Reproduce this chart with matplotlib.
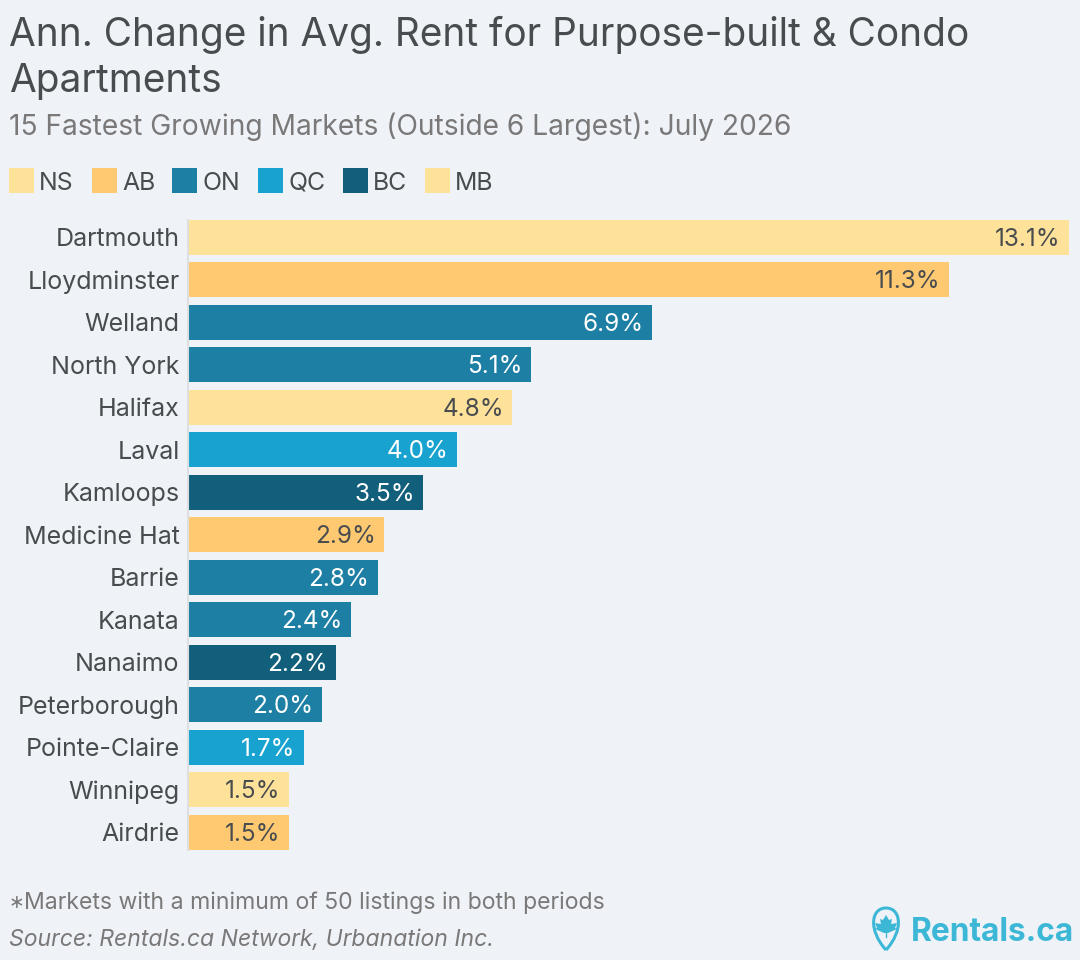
"""Annual rent change by market, horizontal bars coloured by province."""
import matplotlib
matplotlib.use("Agg")
import matplotlib.pyplot as plt
from matplotlib.patches import PathPatch, Rectangle
from matplotlib.path import Path

markets = ['Dartmouth', 'Lloydminster', 'Welland', 'North York', 'Halifax', 'Laval', 'Kamloops',
           'Medicine Hat', 'Barrie', 'Kanata', 'Nanaimo', 'Peterborough', 'Pointe-Claire',
           'Winnipeg', 'Airdrie']
changes = [13.1, 11.31, 6.9, 5.1, 4.82, 4.0, 3.5, 2.92, 2.82, 2.42, 2.2, 1.99, 1.72, 1.5, 1.5]
provinces = ['NS', 'AB', 'ON', 'ON', 'NS', 'QC', 'BC', 'AB', 'ON', 'ON', 'BC', 'ON', 'QC', 'MB', 'AB']

legend_order = ['NS', 'AB', 'ON', 'QC', 'BC', 'MB']
legend_box_x = [9, 92, 172, 258, 343, 425]
COLORS = {'NS': '#FFE29A', 'AB': '#FFC972', 'ON': '#1C7FA3', 'QC': '#18A2D0', 'BC': '#125F7B', 'MB': '#FFE29A'}
DARK_TEXT = {'NS', 'AB', 'MB'}

BG, INK, GREY = '#EFF3F8', '#494C4E', '#7A7878'
W, H = 1080, 960
plt.rcParams['font.family'] = ['Inter', 'DejaVu Sans']

fig = plt.figure(figsize=(W / 100, H / 100), dpi=100, facecolor=BG)

# whole-figure overlay in pixel coords for the text, legend and logo
ov = fig.add_axes([0, 0, 1, 1], zorder=0)
ov.set_xlim(0, W); ov.set_ylim(H, 0); ov.axis('off')

ov.text(9, 35, 'Ann. Change in Avg. Rent for Purpose-built & Condo', fontsize=27.95, color=INK, va='center')
ov.text(9, 81, 'Apartments', fontsize=27.95, color=INK, va='center')
ov.text(9, 127, '15 Fastest Growing Markets (Outside 6 Largest): July 2026', fontsize=20.3, color=GREY, va='center')

for prov, x in zip(legend_order, legend_box_x):
    ov.add_patch(Rectangle((x, 168), 25, 25, color=COLORS[prov], lw=0))
    ov.text(x + 30, 183, prov, fontsize=17.9, color=INK, va='center')

# the asterisk sits tighter against the text in the reference, so it is placed on its own
ov.text(9, 903, '∗', fontsize=13.5, color=GREY, va='center')
ov.text(24, 903, 'Markets with a minimum of 50 listings in both periods', fontsize=16.58, color=GREY, va='center')
ov.text(9, 940, 'Source: Rentals.ca Network, Urbanation Inc.', fontsize=16.55, color=GREY, va='center', style='italic')

# logo: pin outline, leaf, wordmark
LOGO = '#3DB7D6'
pin = Path([(886, 950), (868, 930), (871, 908), (886, 908), (901, 908), (904, 930), (886, 950)],
           [Path.MOVETO, Path.CURVE4, Path.CURVE4, Path.CURVE4, Path.CURVE4, Path.CURVE4, Path.CURVE4])
ov.add_patch(PathPatch(pin, fc='none', ec=LOGO, lw=2.2))
leaf = [(886, 915), (889, 920), (892, 919), (891, 924), (897, 923), (895, 928), (897, 929), (888, 933),
        (884, 933), (875, 929), (877, 928), (875, 923), (881, 924), (880, 919), (883, 920)]
ov.fill([p[0] for p in leaf], [p[1] for p in leaf], color=LOGO, lw=0)
ov.plot([886, 886], [932, 937], color=LOGO, lw=1)
ov.text(911, 932.5, 'Rentals.ca', fontsize=22.8, fontweight='bold', color=LOGO, va='center')

# bar panel: 15 rows at 42.5 px, zero at x=188, 13.1% ends at x=1069
ax = fig.add_axes([188 / W, 1 - 853.5 / H, (W - 188) / W, (853.5 - 216) / H], zorder=1)
ax.patch.set_alpha(0)
ypos = list(range(len(markets)))
ax.barh(ypos, changes, height=0.82, color=[COLORS[p] for p in provinces], lw=0)
ax.set_xlim(0, (W - 188) / (881 / 13.1))
ax.set_ylim(len(markets) - 0.5, -0.5)
ax.set_xticks([])
ax.set_yticks(ypos, markets, fontsize=18, color=INK)
ax.tick_params(axis='y', length=0, pad=6)
for s in ['top', 'right', 'bottom']:
    ax.spines[s].set_visible(False)
ax.spines['left'].set_color('#DDDFE1')
ax.spines['left'].set_linewidth(1.5)
ax.spines['left'].set_bounds(-0.41, len(markets) - 1 + 0.41)

for y, v, p in zip(ypos, changes, provinces):
    ax.annotate(f'{v:.1f}%', (v, y), xytext=(-6, -1.4), textcoords='offset points', ha='right', va='center',
                fontsize=17.5, color=INK if p in DARK_TEXT else 'white')

fig.savefig('out.png', dpi=100, facecolor=BG)
